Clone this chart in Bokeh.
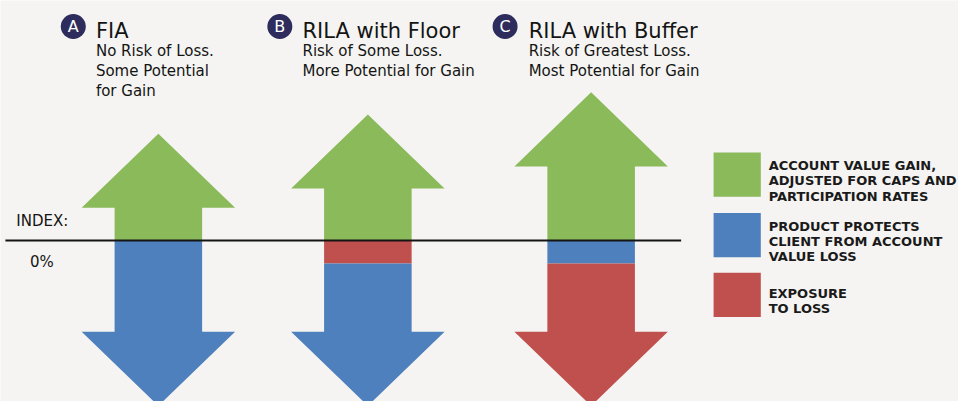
from bokeh.plotting import figure
from bokeh.models import Range1d
from bokeh.embed import file_html
from bokeh.resources import INLINE
from bokeh.core.properties import value

# ---------------- data ----------------
badges = ["A", "B", "C"]
titles = ["FIA", "RILA with Floor", "RILA with Buffer"]
subtitles = [
    ["No Risk of Loss.", "Some Potential", "for Gain"],
    ["Risk of Some Loss.", "More Potential for Gain"],
    ["Risk of Greatest Loss.", "Most Potential for Gain"],
]
# upside arrow length above the index line (relative units)
gain = [111, 131, 154]
# downside arrow, stacked from the index line downward: (kind, length)
downside = [
    [("protect", 172)],
    [("loss", 24), ("protect", 148)],
    [("protect", 24), ("loss", 148)],
]
legend_kinds = ["gain", "protect", "loss"]
legend_labels = [
    ["ACCOUNT VALUE GAIN,", "ADJUSTED FOR CAPS AND", "PARTICIPATION RATES"],
    ["PRODUCT PROTECTS", "CLIENT FROM ACCOUNT", "VALUE LOSS"],
    ["EXPOSURE", "TO LOSS"],
]
index_label = "INDEX:"
zero_label = "0%"

# ---------------- styles / layout ----------------
BG = "#f5f4f2"
COLORS = {"gain": "#8aba5a", "protect": "#4e80bd", "loss": "#c0504d"}
NAVY = "#2e2c5c"
INK = "#141414"
FONT = "DejaVu Sans"
centers = [160.5, 373.5, 600.5]
SHAFT = 44.5
HEAD_W = 78
HEAD_L = 77

W, H = 958, 401
REF_W, REF_H = 974, 417
ZERO = 249.5  # layout y of index line


def py(page_y):
    return ZERO - page_y


p = figure(width=W, height=H, output_backend="svg", toolbar_location=None,
           x_range=Range1d(0, REF_W), y_range=Range1d(py(REF_H), py(0)),
           x_axis_location=None, y_axis_location=None, min_border=0,
           background_fill_color=BG, border_fill_color=BG, outline_line_color=None)
p.grid.visible = False

# arrows
for cx, g, segs in zip(centers, gain, downside):
    hb = g - HEAD_L
    xs = [cx - SHAFT, cx - SHAFT, cx - HEAD_W, cx, cx + HEAD_W, cx + SHAFT, cx + SHAFT]
    ys = [0, hb, hb, g, hb, hb, 0]
    p.patch(xs, ys, fill_color=COLORS["gain"], line_color=None)
    total = sum(l for _, l in segs)
    hstart = -(total - HEAD_L)
    top = 0
    for i, (kind, length) in enumerate(segs):
        bot = top - length
        if i == len(segs) - 1:
            xs = [cx - SHAFT, cx - SHAFT, cx - HEAD_W, cx, cx + HEAD_W, cx + SHAFT, cx + SHAFT]
            ys = [top, hstart, hstart, bot, hstart, hstart, top]
        else:
            xs = [cx - SHAFT, cx - SHAFT, cx + SHAFT, cx + SHAFT]
            ys = [top, bot, bot, top]
        p.patch(xs, ys, fill_color=COLORS[kind], line_color=None)
        top = bot

# index line
p.line([5, 692], [0, 0], line_color=INK, line_width=2)
p.text([16], [py(229)], text=[index_label], text_font=value(FONT), text_font_size="15px",
       text_color=INK, text_baseline="alphabetic")
p.text([30], [py(272)], text=[zero_label], text_font=value(FONT), text_font_size="15px",
       text_color=INK, text_baseline="alphabetic")

# headers
badge_x = [74, 284, 513]
title_x = [97, 307, 537]
for bx, tx, b, t, subs in zip(badge_x, title_x, badges, titles, subtitles):
    p.scatter([bx], [py(27)], size=25, marker="circle", fill_color=NAVY, line_color=None)
    p.text([bx], [py(27.5)], text=[b], text_font=value(FONT), text_font_size="16px",
           text_color="white", text_align="center", text_baseline="middle")
    p.text([tx], [py(32)], text=[t], text_font=value(FONT), text_font_size="21px",
           text_color=INK, text_baseline="alphabetic")
    for i, s in enumerate(subs):
        p.text([tx], [py(53 + 20.5 * i)], text=[s], text_font=value(FONT), text_font_size="15px",
               text_color=INK, text_baseline="alphabetic")

# legend
sw_top = [158, 221, 283]
for kind, lines, top in zip(legend_kinds, legend_labels, sw_top):
    p.quad(left=[725], right=[773], top=[py(top)], bottom=[py(top + 46)],
           fill_color=COLORS[kind], line_color=None)
    n = len(lines)
    first = top + 29.5 - 8 * (n - 1)
    for i, s in enumerate(lines):
        p.text([781], [py(first + 16 * i)], text=[s], text_font=value(FONT), text_font_size="13px",
               text_font_style="bold", text_color="#1a1a1a", text_baseline="alphabetic")

html = file_html(p, INLINE)
html = html.replace("<body>", '<body style="background-color:%s;">' % BG, 1)
open("out.html", "w").write(html)
